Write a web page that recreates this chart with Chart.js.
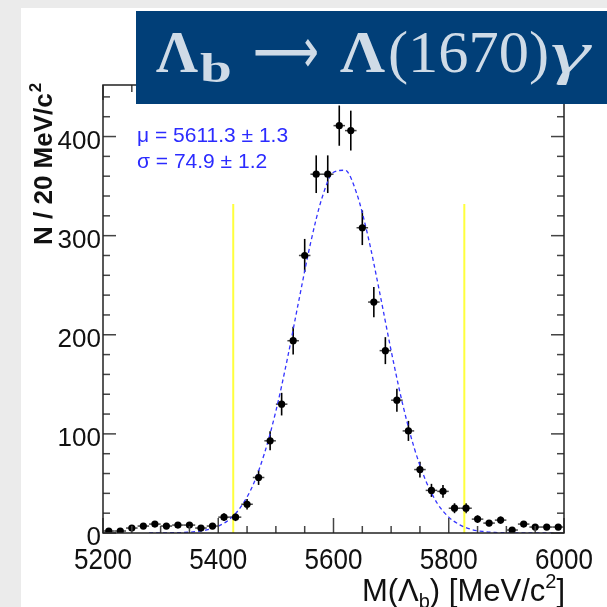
<!DOCTYPE html>
<html>
<head>
<meta charset="utf-8">
<script src="https://cdn.jsdelivr.net/npm/chart.js@4.4.1/dist/chart.umd.min.js"></script>
<style>
html, body { margin: 0; padding: 0; background: #fff; }
canvas { display: block; }
</style>
</head>
<body>
<canvas id="grafik" width="607" height="607"></canvas>
<script>
// bin centres (20 MeV bins) and counts
const bins = [5210, 5230, 5250, 5270, 5290, 5310, 5330, 5350, 5370, 5390,
              5410, 5430, 5450, 5470, 5490, 5510, 5530, 5550, 5570, 5590,
              5610, 5630, 5650, 5670, 5690, 5710, 5730, 5750, 5770, 5790,
              5810, 5830, 5850, 5870, 5890, 5910, 5930, 5950, 5970, 5990];
const counts = [2, 2, 5, 7, 9, 7, 8, 8, 5, 7,
                16, 16, 29, 56, 93, 130, 194, 280, 362, 362,
                411, 406, 308, 233, 184, 134, 103, 64, 43, 42,
                25, 25, 14, 10, 13, 3, 9, 6, 6, 6];
const errs = [1.4, 1.4, 2.2, 2.6, 3, 2.6, 2.8, 2.8, 2.2, 2.6,
              4, 4, 5.4, 7.5, 9.6, 11.4, 14, 16.7, 19, 19,
              20.3, 20.1, 17.5, 15.3, 13.6, 11.6, 10.1, 8, 6.6, 6.5,
              5, 5, 3.8, 3.1, 3.6, 1.8, 3, 2.5, 2.5, 2.5];
const binHalf = 10;

// fitted gaussian
const fitX = [5280, 5300, 5320, 5340, 5360, 5380, 5400, 5420, 5440, 5460,
              5480, 5500, 5520, 5540, 5560, 5580, 5600, 5620, 5640, 5660,
              5680, 5700, 5720, 5740, 5760, 5780, 5800, 5820, 5840, 5860,
              5880, 5900, 5920, 5940, 5960, 5980, 6000];
const fitY = [0, 0.1, 0.3, 0.5, 1.4, 3.2, 7, 14, 27, 48,
              80, 123, 176, 235, 292, 338, 364, 366, 343, 299,
              243, 184, 130, 86, 53, 30, 16, 8, 3.5, 1.5,
              0.6, 0.2, 0, 0, 0, 0, 0];

// yellow signal window lines
const cutX = [5426, 5827];
const cutTop = [332, 332];

const xTicks = [5200, 5400, 5600, 5800, 6000];
const yTicks = [0, 100, 200, 300, 400];
const xMinorStep = 50;
const yMinorStep = 20;

const sans = "Arial, 'Liberation Sans', sans-serif";
const serif = "'Liberation Serif', 'DejaVu Serif', serif";

// gray slide margin + white panel
const background = {
    id: 'background',
    beforeDraw(chart) {
        const ctx = chart.ctx;
        ctx.save();
        ctx.fillStyle = '#ebebeb';
        ctx.fillRect(0, 0, 607, 607);
        ctx.fillStyle = '#ffffff';
        ctx.fillRect(21, 8, 586, 599);
        ctx.restore();
    }
};

// error bars (drawn under the markers)
const errorBars = {
    id: 'errorBars',
    beforeDatasetsDraw(chart) {
        const { ctx, scales: { x, y } } = chart;
        ctx.save();
        bins.forEach((b, i) => {
            const px = x.getPixelForValue(b);
            const py = y.getPixelForValue(counts[i]);
            ctx.strokeStyle = '#444';
            ctx.lineWidth = 1.5;
            ctx.beginPath();
            ctx.moveTo(x.getPixelForValue(b - binHalf), py);
            ctx.lineTo(x.getPixelForValue(b + binHalf), py);
            ctx.stroke();
            ctx.strokeStyle = '#000';
            ctx.lineWidth = 1.6;
            ctx.beginPath();
            ctx.moveTo(px, y.getPixelForValue(counts[i] - errs[i]));
            ctx.lineTo(px, y.getPixelForValue(counts[i] + errs[i]));
            ctx.stroke();
        });
        ctx.restore();
    }
};

function seg(ctx, x1, y1, x2, y2) {
    ctx.beginPath();
    ctx.moveTo(x1, y1);
    ctx.lineTo(x2, y2);
    ctx.stroke();
}

// draw a text piece so its ink spans x0..x1
function piece(ctx, txt, font, x0, x1, base) {
    ctx.font = font;
    const m = ctx.measureText(txt);
    const w = m.actualBoundingBoxLeft + m.actualBoundingBoxRight;
    ctx.save();
    ctx.translate(x0, base);
    ctx.scale((x1 - x0) / w, 1);
    ctx.fillText(txt, m.actualBoundingBoxLeft, 0);
    ctx.restore();
}

// ROOT style frame, inward ticks, labels, titles, title box
const frame = {
    id: 'frame',
    afterDraw(chart) {
        const { ctx, chartArea: a, scales: { x, y } } = chart;
        ctx.save();

        // ticks
        ctx.strokeStyle = '#444';
        ctx.lineWidth = 1.5;
        for (let v = xTicks[0]; v <= xTicks[xTicks.length - 1]; v += xMinorStep) {
            const len = xTicks.includes(v) ? 15 : 7;
            const px = x.getPixelForValue(v);
            seg(ctx, px, a.bottom, px, a.bottom - len);
            seg(ctx, px, a.top, px, a.top + len);
        }
        for (let v = yTicks[0]; v <= y.max; v += yMinorStep) {
            const len = yTicks.includes(v) ? 13 : 7;
            const py = y.getPixelForValue(v);
            seg(ctx, a.left, py, a.left + len, py);
            seg(ctx, a.right, py, a.right - len, py);
        }

        // frame
        ctx.strokeStyle = '#222';
        ctx.lineWidth = 1.5;
        ctx.strokeRect(a.left, a.top, a.right - a.left, a.bottom - a.top);

        // tick labels (x labels are a bit taller on the slide)
        ctx.fillStyle = '#111';
        ctx.font = '26px ' + sans;
        ctx.textAlign = 'center';
        ctx.textBaseline = 'alphabetic';
        xTicks.forEach(v => {
            ctx.save();
            ctx.translate(x.getPixelForValue(v), 569);
            ctx.scale(1, 1.1);
            ctx.fillText(String(v), 0, 0);
            ctx.restore();
        });
        ctx.textAlign = 'right';
        yTicks.forEach(v => ctx.fillText(String(v), 101, y.getPixelForValue(v) + 12));

        // y axis title
        ctx.save();
        ctx.translate(52, 245);
        ctx.rotate(-Math.PI / 2);
        ctx.textAlign = 'left';
        ctx.font = 'bold 26px ' + sans;
        const yt = 'N / 20 MeV/c';
        ctx.fillText(yt, 0, 0);
        const ytw = ctx.measureText(yt).width;
        ctx.font = 'bold 17px ' + sans;
        ctx.fillText('2', ytw + 1, -11);
        ctx.restore();

        // x axis title
        ctx.textAlign = 'left';
        const big = '31px ' + sans, small = '20px ' + sans;
        const parts = [['M(\u039B', big, 0], ['b', small, 7], [') [MeV/c', big, 0], ['2', small, -13], [']', big, 0]];
        let total = 0;
        parts.forEach(p => { ctx.font = p[1]; total += ctx.measureText(p[0]).width; });
        let cx = 565 - total;
        parts.forEach(p => {
            ctx.font = p[1];
            ctx.fillText(p[0], cx, 601 + p[2]);
            cx += ctx.measureText(p[0]).width;
        });

        // fit results
        ctx.fillStyle = '#2b2bff';
        ctx.font = '21px ' + sans;
        ctx.fillText('\u03BC = 5611.3 \u00B1 1.3', 137, 142);
        ctx.fillText('\u03C3 = 74.9 \u00B1 1.2', 137, 168);

        // title box
        ctx.fillStyle = '#013f78';
        ctx.fillRect(136, 11, 471, 93);
        ctx.fillStyle = '#cfdbe7';
        piece(ctx, '\u039B', 'bold 60px ' + serif, 156, 198, 72);
        piece(ctx, 'b', 'bold 42px ' + serif, 200, 230, 82);
        piece(ctx, '\u27F6', "64px 'DejaVu Sans', " + serif, 255, 317, 73);
        piece(ctx, '\u039B', 'bold 60px ' + serif, 340, 385, 72);
        piece(ctx, '(1670)', '60px ' + serif, 390, 547, 72);
        piece(ctx, '\u03B3', 'italic 60px ' + serif, 552, 592, 72);

        ctx.restore();
    }
};

const points = bins.map((b, i) => ({ x: b, y: counts[i] }));
const fitLine = fitX.map((v, i) => ({ x: v, y: fitY[i] }));
const cutLines = cutX.map((v, i) => ({
    data: [{ x: v, y: 0 }, { x: v, y: cutTop[i] }],
    showLine: true,
    borderColor: '#ffff3c',
    borderWidth: 2,
    pointRadius: 0
}));

const chart = new Chart(document.getElementById('grafik').getContext('2d'), {
    type: 'scatter',
    data: {
        datasets: [
            { data: points, pointRadius: 3.6, pointBackgroundColor: '#000', pointBorderWidth: 0 },
            { data: fitLine, showLine: true, borderColor: '#3333ff', borderWidth: 1.3,
              borderDash: [4, 3], pointRadius: 0, cubicInterpolationMode: 'monotone' },
            ...cutLines
        ]
    },
    options: {
        responsive: false,
        animation: false,
        devicePixelRatio: 1,
        layout: { padding: { left: 103, top: 85, right: 43, bottom: 74 } },
        plugins: { legend: { display: false }, tooltip: { enabled: false } },
        scales: {
            x: { type: 'linear', min: 5200, max: 6000, display: false },
            y: { type: 'linear', min: 0, max: 452, display: false }
        }
    },
    plugins: [background, errorBars, frame]
});
</script>
</body>
</html>
